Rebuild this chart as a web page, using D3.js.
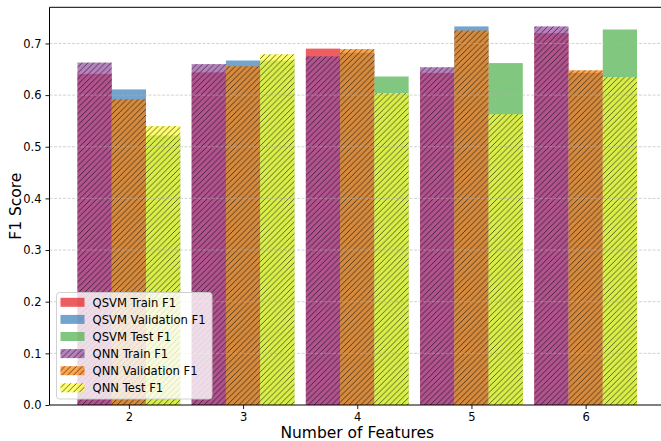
<!DOCTYPE html>
<html>
<head>
<meta charset="utf-8">
<script src="https://cdn.jsdelivr.net/npm/d3@7"></script>
<style>
  body { margin: 0; background: #fff; }
  svg { display: block; font-family: "DejaVu Sans", sans-serif; }
</style>
</head>
<body>
<div id="chart"></div>
<script>
// values
const features = [2, 3, 4, 5, 6];
const qsvmTrain = [0.641, 0.644, 0.690, 0.643, 0.720];
const qsvmVal   = [0.611, 0.667, 0.682, 0.733, 0.643];
const qsvmTest  = [0.522, 0.667, 0.636, 0.662, 0.727];
const qnnTrain  = [0.663, 0.660, 0.675, 0.654, 0.733];
const qnnVal    = [0.592, 0.656, 0.689, 0.725, 0.648];
const qnnTest   = [0.540, 0.679, 0.604, 0.563, 0.635];
const yTicks = [0, 0.1, 0.2, 0.3, 0.4, 0.5, 0.6, 0.7];

const series = [
  {name: "QSVM Train F1", values: qsvmTrain, color: "#e41a1c", off: -0.3, hatch: false},
  {name: "QSVM Validation F1", values: qsvmVal, color: "#377eb8", off: 0, hatch: false},
  {name: "QSVM Test F1", values: qsvmTest, color: "#4daf4a", off: 0.3, hatch: false},
  {name: "QNN Train F1", values: qnnTrain, color: "#984ea3", off: -0.3, hatch: true},
  {name: "QNN Validation F1", values: qnnVal, color: "#ff7f00", off: 0, hatch: true},
  {name: "QNN Test F1", values: qnnTest, color: "#ffff33", off: 0.3, hatch: true}
];

const W = 661, H = 441;
const plotLeft = 49.5, plotTop = 7.3, plotBottom = 405;
const barW = 0.3;

const svg = d3.select("#chart").append("svg")
    .attr("width", W)
    .attr("height", H);

const defs = svg.append("defs");
const pat = defs.append("pattern")
    .attr("id", "hatch")
    .attr("patternUnits", "userSpaceOnUse")
    .attr("width", 5.8)
    .attr("height", 5.8);
pat.append("path")
    .attr("d", "M-1,1 l2,-2 M0,5.8 l5.8,-5.8 M4.8,6.8 l2,-2")
    .attr("stroke", "#000")
    .attr("stroke-opacity", 0.65)
    .attr("stroke-width", 0.9);

const x = d3.scaleLinear().domain([1.305, 6.695]).range([plotLeft, 665]);
const y = d3.scaleLinear().domain([0, 0.77]).range([plotBottom, plotTop]);

const g = svg.append("g");

series.forEach(s => {
  const grp = g.append("g");
  grp.selectAll("rect.fill")
    .data(s.values).enter().append("rect")
      .attr("class", "fill")
      .attr("x", (d, i) => x(features[i] + s.off - barW / 2))
      .attr("width", x(barW) - x(0))
      .attr("y", d => y(d))
      .attr("height", d => y(0) - y(d))
      .attr("fill", s.color)
      .attr("fill-opacity", 0.7);
  if (s.hatch) {
    grp.selectAll("rect.hatch")
      .data(s.values).enter().append("rect")
        .attr("class", "hatch")
        .attr("x", (d, i) => x(features[i] + s.off - barW / 2))
        .attr("width", x(barW) - x(0))
        .attr("y", d => y(d))
        .attr("height", d => y(0) - y(d))
        .attr("fill", "url(#hatch)");
  }
});

// grid
svg.append("g").selectAll("line")
  .data(yTicks.slice(1)).enter().append("line")
    .attr("x1", plotLeft).attr("x2", W)
    .attr("y1", d => y(d)).attr("y2", d => y(d))
    .attr("stroke", "#b0b0b0")
    .attr("stroke-opacity", 0.7)
    .attr("stroke-width", 0.8)
    .attr("stroke-dasharray", "3,1.5");

// axes
const xAxis = svg.append("g")
    .attr("transform", `translate(0,${plotBottom})`)
    .call(d3.axisBottom(x).tickValues(features).tickFormat(d3.format("d")).tickSize(4).tickPadding(4));
const yAxis = svg.append("g")
    .attr("transform", `translate(${plotLeft},0)`)
    .call(d3.axisLeft(y).tickValues(yTicks).tickFormat(d3.format(".1f")).tickSize(4).tickPadding(4));
[xAxis, yAxis].forEach(a => {
  a.selectAll("text").attr("font-size", 11.5).attr("font-family", "DejaVu Sans").attr("fill", "#000");
  a.select(".domain").remove();
  a.selectAll("line").attr("stroke", "#000").attr("stroke-width", 0.9);
});

// spines
svg.append("line").attr("x1", plotLeft).attr("x2", W).attr("y1", plotBottom).attr("y2", plotBottom).attr("stroke", "#000").attr("stroke-width", 1);
svg.append("line").attr("x1", plotLeft).attr("x2", W).attr("y1", plotTop).attr("y2", plotTop).attr("stroke", "#000").attr("stroke-width", 1);
svg.append("line").attr("x1", plotLeft).attr("x2", plotLeft).attr("y1", plotTop).attr("y2", plotBottom).attr("stroke", "#000").attr("stroke-width", 1);

// axis labels
svg.append("text")
    .attr("x", x(4)).attr("y", 438)
    .attr("text-anchor", "middle")
    .attr("font-size", 15.5)
    .text("Number of Features");
svg.append("text")
    .attr("transform", `translate(21,${(plotTop + plotBottom) / 2}) rotate(-90)`)
    .attr("text-anchor", "middle")
    .attr("font-size", 15.5)
    .text("F1 Score");

// legend
const leg = svg.append("g").attr("transform", "translate(56.5,292.5)");
leg.append("rect")
    .attr("width", 155.5).attr("height", 106.5)
    .attr("rx", 3)
    .attr("fill", "#fff").attr("fill-opacity", 0.8)
    .attr("stroke", "#cccccc").attr("stroke-width", 0.9);
const items = leg.selectAll("g.item").data(series).enter().append("g")
    .attr("class", "item")
    .attr("transform", (d, i) => `translate(4,${9.8 + i * 17.1})`);
items.append("rect")
    .attr("x", 0).attr("y", -4.5).attr("width", 24).attr("height", 9)
    .attr("fill", d => d.color).attr("fill-opacity", 0.7);
items.filter(d => d.hatch).append("rect")
    .attr("x", 0).attr("y", -4.5).attr("width", 24).attr("height", 9)
    .attr("fill", "url(#hatch)");
items.append("text")
    .attr("x", 32).attr("y", 4.2)
    .attr("font-size", 11.6)
    .text(d => d.name);
</script>
</body>
</html>
